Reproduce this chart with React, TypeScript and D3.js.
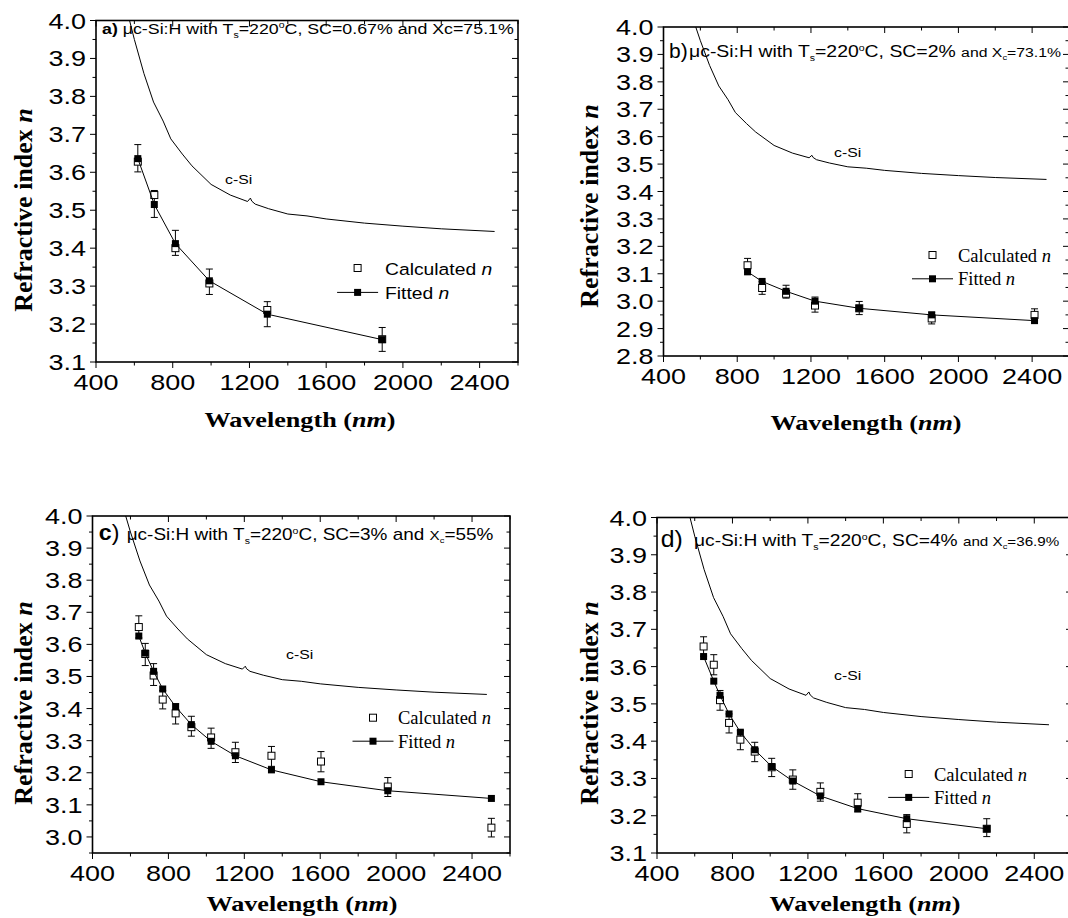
import React from "react";
import * as d3 from "d3";

// ---------- DATA ----------
// crystalline silicon reference curve
const cSiWavelength = [540, 575, 600, 650, 700, 750, 790, 850, 900, 1000, 1100, 1190, 1205, 1212, 1230, 1300, 1400, 1500, 1600, 1800, 2000, 2200, 2478];
const cSiIndex = [4.1, 4.0, 3.95, 3.86, 3.785, 3.735, 3.688, 3.648, 3.617, 3.568, 3.54, 3.523, 3.532, 3.524, 3.516, 3.504, 3.49, 3.485, 3.477, 3.466, 3.458, 3.451, 3.444];

// panel a
const aWavelength = [618, 704, 814, 991, 1293, 1892];
const aCalculated = [3.628, 3.54, 3.4, 3.307, 3.237, 3.16];
const aFitted = [3.636, 3.515, 3.412, 3.314, 3.226, 3.159];
const aErrLow = [3.601, 3.481, 3.381, 3.278, 3.193, 3.128];
const aErrHigh = [3.673, 3.552, 3.447, 3.345, 3.259, 3.191];

// panel b
const bWavelength = [856, 935, 1065, 1222, 1462, 1855, 2413];
const bCalculated = [3.131, 3.048, 3.027, 2.984, 2.974, 2.937, 2.95];
const bFitted = [3.107, 3.072, 3.036, 3.0, 2.974, 2.95, 2.929];
const bErrLow = [3.106, 3.025, 3.011, 2.96, 2.951, 2.917, 2.929];
const bErrHigh = [3.156, 3.071, 3.058, 3.015, 2.999, 2.96, 2.972];

// panel c
const cWavelength = [644, 678, 722, 770, 838, 921, 1025, 1153, 1343, 1604, 1956, 2502];
const cCalculated = [3.654, 3.57, 3.503, 3.428, 3.385, 3.342, 3.31, 3.264, 3.253, 3.235, 3.157, 3.029];
const cFitted = [3.626, 3.573, 3.516, 3.461, 3.406, 3.35, 3.298, 3.253, 3.209, 3.172, 3.144, 3.12];
const cErrLow = [3.62, 3.534, 3.472, 3.399, 3.352, 3.314, 3.276, 3.232, 3.22, 3.203, 3.126, 3.0];
const cErrHigh = [3.689, 3.603, 3.54, 3.456, 3.415, 3.376, 3.339, 3.295, 3.282, 3.266, 3.185, 3.058];

// panel d
const dWavelength = [647, 701, 734, 782, 842, 918, 1008, 1120, 1266, 1464, 1724, 2148];
const dCalculated = [3.654, 3.605, 3.51, 3.449, 3.404, 3.372, 3.33, 3.297, 3.264, 3.235, 3.178, 3.165];
const dFitted = [3.627, 3.561, 3.523, 3.473, 3.424, 3.377, 3.332, 3.293, 3.253, 3.219, 3.192, 3.165];
const dErrLow = [3.628, 3.578, 3.483, 3.422, 3.377, 3.345, 3.305, 3.271, 3.239, 3.21, 3.154, 3.144];
const dErrHigh = [3.68, 3.632, 3.536, 3.473, 3.428, 3.397, 3.354, 3.323, 3.288, 3.259, 3.203, 3.192];

// ticks
const xTickLabels = [400, 800, 1200, 1600, 2000, 2400];
const xDomain = [400, 2600];
const aYTicks = [3.1, 3.2, 3.3, 3.4, 3.5, 3.6, 3.7, 3.8, 3.9, 4.0];
const bYTicks = [2.8, 2.9, 3.0, 3.1, 3.2, 3.3, 3.4, 3.5, 3.6, 3.7, 3.8, 3.9, 4.0];
const cYTicks = [3.0, 3.1, 3.2, 3.3, 3.4, 3.5, 3.6, 3.7, 3.8, 3.9, 4.0];
const dYTicks = [3.1, 3.2, 3.3, 3.4, 3.5, 3.6, 3.7, 3.8, 3.9, 4.0];

// ---------- STYLE ----------
const SANS = "'Liberation Sans', Arial, sans-serif";
const SERIF = "'Liberation Serif', 'Times New Roman', serif";
const SX = 1.17;

type Seg = { t: string; size: number; bold?: boolean; italic?: boolean; shift?: number };

function Segs({ segs }: { segs: Seg[] }) {
  let prev = 0;
  return (
    <>
      {segs.map((s, i) => {
        const sh = s.shift || 0;
        const dy = sh - prev;
        prev = sh;
        return (
          <tspan key={i} dy={dy} fontSize={s.size} fontWeight={s.bold ? "bold" : "normal"} fontStyle={s.italic ? "italic" : "normal"}>
            {s.t}
          </tspan>
        );
      })}
    </>
  );
}

function ST(props: any) {
  const { x, y, size, fam = SANS, weight = "normal", anchor = "start", sx = SX, children } = props;
  return (
    <text
      transform={`translate(${x},${y}) scale(${sx},1)`}
      fontSize={size}
      fontFamily={fam}
      fontWeight={weight}
      textAnchor={anchor}
      fill="#000"
      style={{ whiteSpace: "pre" }}
    >
      {children}
    </text>
  );
}

type Title = { x: number; y: number; sx?: number; segs: Seg[] };
type Panel = {
  id: string;
  box: { l: number; t: number; r: number; b: number };
  yDomain: [number, number];
  yTicks: number[];
  wl: number[];
  calc: number[];
  fit: number[];
  lo: number[];
  hi: number[];
  titles: Title[];
  cSiLabel: { x: number; y: number };
  legend: { x: number; y1: number; y2: number; textX: number; serif: boolean; size: number };
  yLabel: { x: number; y: number };
  xLabel: { x: number; y: number };
};

const sub = 9;
const panels: Panel[] = [
  {
    id: "a",
    box: { l: 96, t: 20.5, r: 518, b: 362 },
    yDomain: [3.1, 4.0],
    yTicks: aYTicks,
    wl: aWavelength, calc: aCalculated, fit: aFitted, lo: aErrLow, hi: aErrHigh,
    titles: [
      {
        x: 102, y: 34,
        segs: [
          { t: "a)", size: 15.2, bold: true },
          { t: " \u03bcc-Si:H with T", size: 15.2 },
          { t: "s", size: sub, shift: 4 },
          { t: "=220", size: 15.2 },
          { t: "o", size: sub, shift: -6 },
          { t: "C, SC=0.67% and Xc=75.1%", size: 15.2 },
        ],
      },
    ],
    cSiLabel: { x: 225, y: 184 },
    legend: { x: 357.6, y1: 268, y2: 292.4, textX: 385, serif: false, size: 16.5 },
    yLabel: { x: 32, y: 210 },
    xLabel: { x: 300, y: 427 },
  },
  {
    id: "b",
    box: { l: 663.5, t: 27, r: 1069, b: 356 },
    yDomain: [2.8, 4.0],
    yTicks: bYTicks,
    wl: bWavelength, calc: bCalculated, fit: bFitted, lo: bErrLow, hi: bErrHigh,
    titles: [
      { x: 669, y: 58, sx: 1.0, segs: [{ t: "b)", size: 21 }] },
      {
        x: 689, y: 57,
        segs: [
          { t: "\u03bcc-Si:H with T", size: 16.6 },
          { t: "s", size: sub, shift: 4 },
          { t: "=220", size: 16.6 },
          { t: "o", size: sub, shift: -6 },
          { t: "C, SC=2% ", size: 16.6 },
          { t: "and X", size: 13.5 },
          { t: "c", size: 8, shift: 3 },
          { t: "=73.1%", size: 13.5 },
        ],
      },
    ],
    cSiLabel: { x: 834, y: 157 },
    legend: { x: 932.5, y1: 255, y2: 278.8, textX: 958, serif: true, size: 18.5 },
    yLabel: { x: 598, y: 206 },
    xLabel: { x: 866, y: 430 },
  },
  {
    id: "c",
    box: { l: 92.5, t: 516, r: 510, b: 853 },
    yDomain: [2.95, 4.0],
    yTicks: cYTicks,
    wl: cWavelength, calc: cCalculated, fit: cFitted, lo: cErrLow, hi: cErrHigh,
    titles: [
      { x: 98.8, y: 540, sx: 1.05, segs: [{ t: "c", size: 22, bold: true }, { t: ")", size: 22 }] },
      {
        x: 126.7, y: 540,
        segs: [
          { t: "\u03bcc-Si:H with T", size: 16.2 },
          { t: "s", size: sub, shift: 4 },
          { t: "=220", size: 16.2 },
          { t: "o", size: sub, shift: -6 },
          { t: "C, SC=3% and ", size: 16.2 },
          { t: "X", size: 13 },
          { t: "c", size: 8, shift: 3 },
          { t: "=55%", size: 16.2 },
        ],
      },
    ],
    cSiLabel: { x: 286, y: 659 },
    legend: { x: 373, y1: 717.7, y2: 741.2, textX: 398, serif: true, size: 18.5 },
    yLabel: { x: 32, y: 703 },
    xLabel: { x: 302, y: 911 },
  },
  {
    id: "d",
    box: { l: 657, t: 517.5, r: 1072, b: 853 },
    yDomain: [3.1, 4.0],
    yTicks: dYTicks,
    wl: dWavelength, calc: dCalculated, fit: dFitted, lo: dErrLow, hi: dErrHigh,
    titles: [
      { x: 660.7, y: 547, sx: 1.08, segs: [{ t: "d)", size: 23 }] },
      {
        x: 694, y: 546,
        segs: [
          { t: "\u03bcc-Si:H with T", size: 16.4 },
          { t: "s", size: sub, shift: 4 },
          { t: "=220", size: 16.4 },
          { t: "o", size: sub, shift: -6 },
          { t: "C, SC=4% ", size: 16.4 },
          { t: "and X", size: 13 },
          { t: "c", size: 8, shift: 3 },
          { t: "=36.9%", size: 13 },
        ],
      },
    ],
    cSiLabel: { x: 834, y: 680 },
    legend: { x: 908.7, y1: 774, y2: 797.4, textX: 934, serif: true, size: 18.5 },
    yLabel: { x: 598, y: 703 },
    xLabel: { x: 865, y: 911 },
  },
];

const TICK_SIZE = 22.5;
const TICK_SX = 1.2;
const MARK = 7;

function PanelView({ p }: { p: Panel }) {
  const { l, t, r, b } = p.box;
  const x = d3.scaleLinear().domain(xDomain).range([l, r]);
  const y = d3.scaleLinear().domain(p.yDomain).range([b, t]);
  const clipId = `clip-${p.id}`;
  const line = d3.line<[number, number]>().x((d) => x(d[0])).y((d) => y(d[1]));
  const cSiPts: [number, number][] = cSiWavelength.map((w, i) => [w, cSiIndex[i]]);
  const fitPts: [number, number][] = p.wl.map((w, i) => [w, p.fit[i]]);
  const xMinor = d3.range(xDomain[0], xDomain[1] + 1, 200);
  const yMinor = d3.range(p.yDomain[0], p.yDomain[1] + 0.0001, 0.05).filter((v) => !p.yTicks.some((tv) => Math.abs(tv - v) < 1e-6));
  const h = MARK / 2;
  const lg = p.legend;
  const legFam = lg.serif ? SERIF : SANS;
  const legSx = lg.serif ? 1.0 : SX;
  return (
    <g>
      <defs>
        <clipPath id={clipId}>
          <rect x={l} y={t} width={r - l} height={b - t} />
        </clipPath>
      </defs>
      {/* c-Si curve */}
      <path d={line(cSiPts) || ""} fill="none" stroke="#000" strokeWidth={1} clipPath={`url(#${clipId})`} />
      {/* error bars */}
      {p.wl.map((w, i) => (
        <g key={"e" + i} stroke="#000" strokeWidth={1}>
          <line x1={x(w)} x2={x(w)} y1={y(p.lo[i])} y2={y(p.hi[i])} />
          <line x1={x(w) - 3.5} x2={x(w) + 3.5} y1={y(p.lo[i])} y2={y(p.lo[i])} />
          <line x1={x(w) - 3.5} x2={x(w) + 3.5} y1={y(p.hi[i])} y2={y(p.hi[i])} />
        </g>
      ))}
      {/* calculated (open squares) */}
      {p.wl.map((w, i) => (
        <rect key={"c" + i} x={x(w) - h} y={y(p.calc[i]) - h} width={MARK} height={MARK} fill="#fff" stroke="#000" strokeWidth={1} />
      ))}
      {/* fitted line + filled squares */}
      <path d={line(fitPts) || ""} fill="none" stroke="#000" strokeWidth={1} />
      {p.wl.map((w, i) => (
        <rect key={"f" + i} x={x(w) - h} y={y(p.fit[i]) - h} width={MARK} height={MARK} fill="#000" />
      ))}
      {/* frame */}
      <rect x={l} y={t} width={r - l} height={b - t} fill="none" stroke="#000" strokeWidth={1.6} />
      {/* x ticks */}
      {xMinor.map((v) => {
        const major = xTickLabels.includes(v);
        const len = major ? 6 : 3.5;
        return (
          <g key={"xt" + v} stroke="#000" strokeWidth={1}>
            <line x1={x(v)} x2={x(v)} y1={b} y2={b + len} />
            <line x1={x(v)} x2={x(v)} y1={t} y2={t + len} />
          </g>
        );
      })}
      {xTickLabels.map((v) => (
        <ST key={"xl" + v} x={x(v)} y={b + 28} size={TICK_SIZE} anchor="middle" sx={TICK_SX}>
          {String(v)}
        </ST>
      ))}
      {/* y ticks */}
      {p.yTicks.map((v) => (
        <g key={"yt" + v} stroke="#000" strokeWidth={1}>
          <line x1={l - 6} x2={l} y1={y(v)} y2={y(v)} />
          <line x1={r - 6} x2={r} y1={y(v)} y2={y(v)} />
        </g>
      ))}
      {yMinor.map((v) => (
        <g key={"ym" + v} stroke="#000" strokeWidth={1}>
          <line x1={l - 3.5} x2={l} y1={y(v)} y2={y(v)} />
          <line x1={r - 3.5} x2={r} y1={y(v)} y2={y(v)} />
        </g>
      ))}
      {p.yTicks.map((v) => (
        <ST key={"yl" + v} x={l - 10} y={y(v) + 8} size={TICK_SIZE} anchor="end" sx={TICK_SX}>
          {v.toFixed(1)}
        </ST>
      ))}
      {/* titles */}
      {p.titles.map((tt, i) => (
        <ST key={"ti" + i} x={tt.x} y={tt.y} size={16} sx={tt.sx ?? SX}>
          <Segs segs={tt.segs} />
        </ST>
      ))}
      {/* c-Si label */}
      <ST x={p.cSiLabel.x} y={p.cSiLabel.y} size={13.5}>
        c-Si
      </ST>
      {/* legend */}
      <rect x={lg.x - h} y={lg.y1 - h} width={MARK} height={MARK} fill="#fff" stroke="#000" strokeWidth={1} />
      <ST x={lg.textX} y={lg.y1 + 6.5} size={lg.size} fam={legFam} sx={legSx}>
        <tspan>Calculated </tspan>
        <tspan fontStyle="italic">n</tspan>
      </ST>
      <line x1={lg.x - 20.5} x2={lg.x + 20.5} y1={lg.y2} y2={lg.y2} stroke="#000" strokeWidth={1} />
      <rect x={lg.x - h} y={lg.y2 - h} width={MARK} height={MARK} fill="#000" />
      <ST x={lg.textX} y={lg.y2 + 6.5} size={lg.size} fam={legFam} sx={legSx}>
        <tspan>Fitted </tspan>
        <tspan fontStyle="italic">n</tspan>
      </ST>
      {/* axis labels */}
      <text
        transform={`translate(${p.yLabel.x},${p.yLabel.y}) rotate(-90)`}
        fontFamily={SERIF}
        fontWeight="bold"
        fontSize={26}
        textAnchor="middle"
      >
        <tspan>Refractive index </tspan>
        <tspan fontStyle="italic">n</tspan>
      </text>
      <ST x={p.xLabel.x} y={p.xLabel.y} size={22} fam={SERIF} weight="bold" anchor="middle" sx={1.19}>
        <tspan>Wavelength (</tspan>
        <tspan fontStyle="italic">nm</tspan>
        <tspan>)</tspan>
      </ST>
    </g>
  );
}

export default function App() {
  return (
    <svg
      width={1068}
      height={918}
      viewBox="0 0 1068 918"
      style={{ position: "absolute", left: 0, top: 0, background: "#fff" }}
    >
      <rect x={0} y={0} width={1068} height={918} fill="#fff" />
      {panels.map((p) => (
        <PanelView key={p.id} p={p} />
      ))}
    </svg>
  );
}
